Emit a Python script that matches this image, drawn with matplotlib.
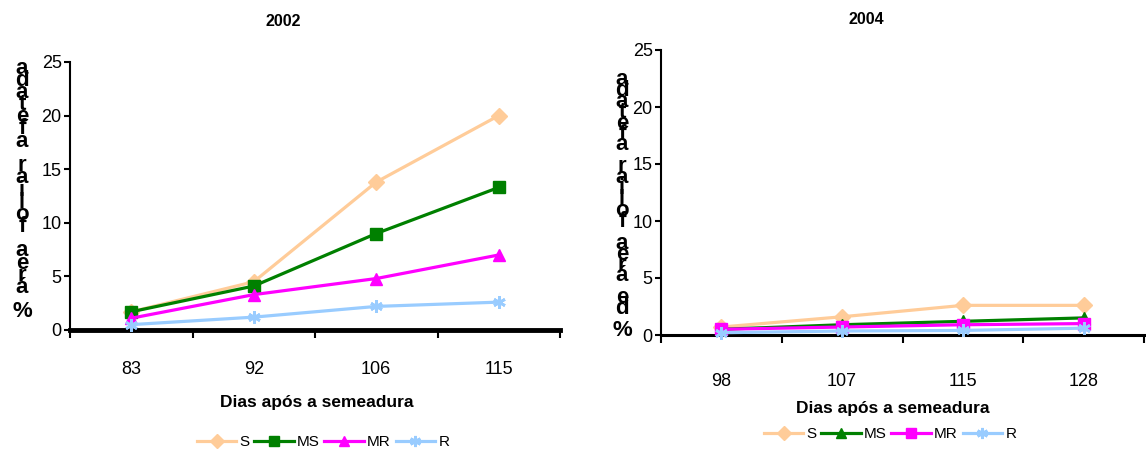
import matplotlib
matplotlib.use("Agg")
import matplotlib.pyplot as plt
from matplotlib.lines import Line2D

plt.rcParams["font.family"] = ["Liberation Sans", "DejaVu Sans"]

# ---- data ----
series = ["S", "MS", "MR", "R"]
colors = ["#FFCC99", "#008000", "#FF00FF", "#99CCFF"]

days_2002 = ["83", "92", "106", "115"]
s_2002 = [1.7, 4.5, 13.8, 20.0]
ms_2002 = [1.7, 4.1, 9.0, 13.3]
mr_2002 = [1.1, 3.3, 4.8, 7.0]
r_2002 = [0.5, 1.2, 2.2, 2.6]
markers_2002 = ["D", "s", "^", (6, 2, 0)]

days_2004 = ["98", "107", "115", "128"]
s_2004 = [0.7, 1.6, 2.6, 2.6]
ms_2004 = [0.5, 0.9, 1.2, 1.5]
mr_2004 = [0.5, 0.7, 0.9, 1.0]
r_2004 = [0.2, 0.35, 0.4, 0.6]
markers_2004 = ["D", "^", "s", (6, 2, 0)]

yticks = [0, 5, 10, 15, 20, 25]
ylabel_2002 = "% área foliar afetada"
ylabel_2004 = "% de área foliar afetada"
xlabel = "Dias após a semeadura"

W, H = 1146, 453
fig = plt.figure(figsize=(W / 100, H / 100), dpi=100)


def px_axes(x0, y_top, x1, y_bot):
    return fig.add_axes([x0 / W, 1 - y_bot / H, (x1 - x0) / W, (y_bot - y_top) / H])


def draw(ax, days, data, markers, bottom_lw, title, title_xy, ylab, ylab_xy,
         ylab_ls, xlab_xy, leg_xy, lab_pad):
    xs = [i + 0.5 for i in range(len(days))]
    handles = []
    for vals, c, m, name in zip(data, colors, markers, series):
        star = m == (6, 2, 0)
        ms = 9 if star else 8
        ax.plot(xs, vals, color=c, lw=2.3, marker=m, ms=ms, mec=c, mfc=c,
                mew=2 if star else 1, clip_on=False, zorder=3)
        handles.append(Line2D([], [], color=c, lw=2.3, marker=m, ms=ms - 1, mec=c,
                              mfc=c, mew=2 if star else 1))
    ax.set_xlim(0, len(days))
    ax.set_ylim(0, 25)
    ax.set_yticks(yticks)
    ax.set_yticklabels([str(v) for v in yticks], fontsize=13)
    ax.set_xticks(range(len(days) + 1))
    ax.set_xticklabels([""] * (len(days) + 1))
    ax.set_xticks(xs, minor=True)
    ax.set_xticklabels(days, minor=True, fontsize=13)
    ax.tick_params(axis="x", which="minor", length=0, pad=lab_pad)
    ax.tick_params(axis="x", which="major", length=6, width=1.5, direction="out")
    ax.tick_params(axis="y", length=4, width=1.5, direction="out", pad=2)
    for s in ("top", "right"):
        ax.spines[s].set_visible(False)
    ax.spines["left"].set_linewidth(1.5)
    ax.spines["bottom"].set_linewidth(bottom_lw)
    ax.spines["bottom"].set_zorder(2)
    fig.text(title_xy[0] / W, 1 - title_xy[1] / H, title, ha="center", va="center",
             fontsize=11.5, fontweight="bold")
    fig.text(ylab_xy[0] / W, 1 - ylab_xy[1] / H, "\n".join(reversed(ylab)),
             ha="center", va="center", fontsize=16, fontweight="bold",
             linespacing=ylab_ls)
    fig.text(xlab_xy[0] / W, 1 - xlab_xy[1] / H, xlabel, ha="center", va="center",
             fontsize=12.5, fontweight="bold")
    fig.legend(handles, series, loc="center", ncol=4, frameon=False,
               bbox_to_anchor=(leg_xy[0] / W, 1 - leg_xy[1] / H),
               fontsize=11, handlelength=2.6, handletextpad=0.2,
               columnspacing=0.3, borderpad=0)


ax1 = px_axes(70, 62, 560, 330)
draw(ax1, days_2002, [s_2002, ms_2002, mr_2002, r_2002], markers_2002, 3.5,
     "2002", (283, 22), ylabel_2002, (22, 190), 0.45, (317, 403), (323, 442), 22)

ax2 = px_axes(661, 50, 1144, 335)
draw(ax2, days_2004, [s_2004, ms_2004, mr_2004, r_2004], markers_2004, 2.2,
     "2004", (866, 20), ylabel_2004, (622, 205), 0.37, (893, 408), (890, 434), 27)

fig.savefig("out.png", dpi=100)
